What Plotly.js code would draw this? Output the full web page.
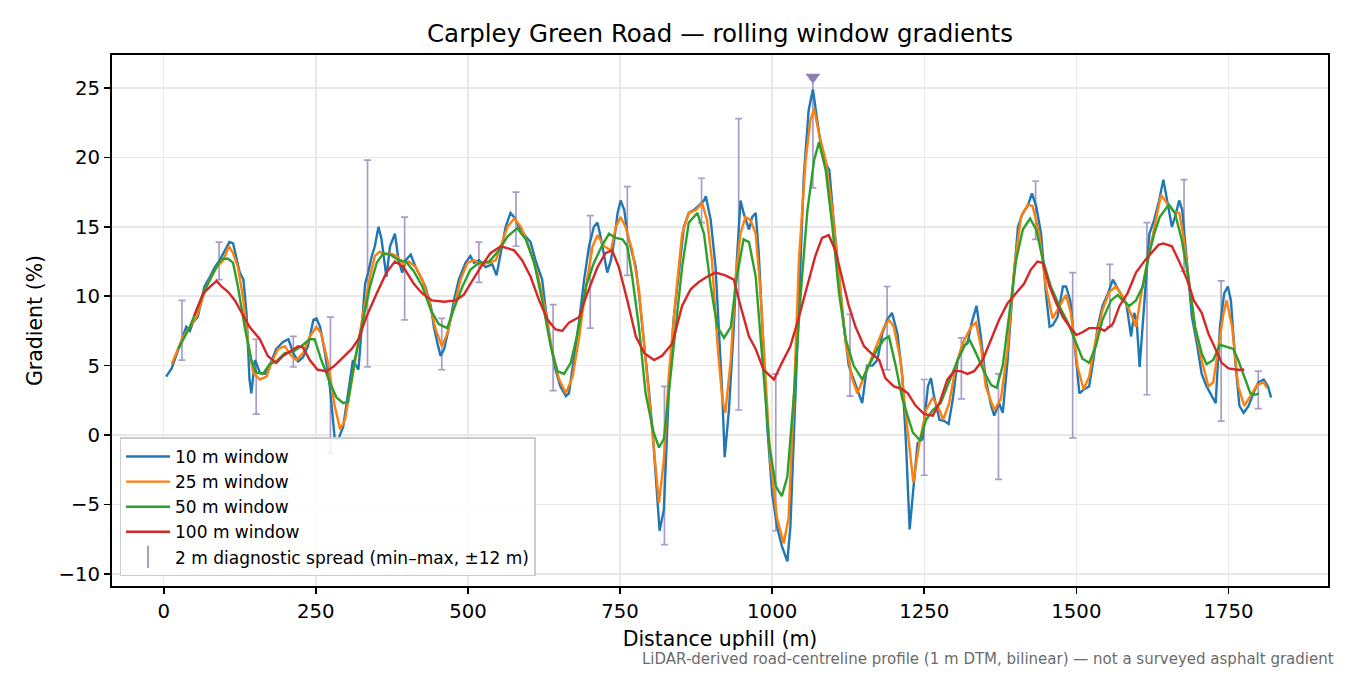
<!DOCTYPE html>
<html><head><meta charset="utf-8">
<script src="https://cdn.plot.ly/plotly-3.0.1.min.js"></script>
<style>html,body{margin:0;padding:0;background:#fff}#chart{width:1350px;height:675px}</style>
</head><body><div id="chart"></div>
<script>
// ---- 10 m window ----
const dist10=[4,13,26,37,43,48,56,67,76,84,92,100,108,114,120,125,131,136,141,144,150,158,166,174,185,196,205,213,221,229,237,246,251,257,265,273,281,287,295,303,311,320,325,331,336,342,347,353,358,361,366,372,380,386,392,398,406,414,422,430,439,444,450,455,461,469,477,485,496,504,510,518,529,540,547,554,562,570,576,584,595,603,611,622,628,636,644,652,661,666,674,683,691,699,707,713,718,724,729,735,740,746,751,757,762,770,776,781,790,798,804,809,815,822,830,838,847,855,863,871,879,888,891,899,907,912,918,922,929,937,942,948,953,962,967,973,978,984,992,1000,1008,1016,1025,1030,1036,1044,1052,1060,1067,1074,1082,1091,1094,1101,1110,1118,1126,1134,1143,1148,1156,1165,1173,1181,1189,1197,1206,1214,1220,1226,1234,1239,1247,1256,1261,1266,1275,1283,1290,1297,1305,1313,1321,1328,1336,1343,1351,1360,1365,1373,1379,1387,1395,1404,1412,1420,1427,1434,1442,1450,1456,1461,1469,1478,1483,1490,1497,1505,1513,1521,1528,1535,1543,1552,1560,1568,1575,1582,1590,1595,1599,1604,1609,1615,1620,1628,1636,1643,1649,1657,1662,1669,1674,1682,1690,1698,1706,1714,1723,1729,1736,1743,1749,1754,1761,1768,1775,1783,1791,1799,1808,1815,1820];
const grad10=[4.2,4.8,6.4,7.8,7.5,8.1,8.5,10.7,11.4,12.1,12.6,13.2,13.9,13.8,12.6,11.7,11.2,8.8,4.0,3.0,5.4,4.5,4.4,5.0,6.2,6.7,6.9,5.9,5.3,5.6,6.4,8.3,8.4,7.8,5.9,3.5,-0.2,-0.3,0.6,3.0,5.4,4.7,7.4,10.9,11.7,12.9,13.6,15.0,14.1,13.1,11.4,13.6,14.5,12.6,11.7,12.6,13.0,12.1,11.4,10.7,9.3,7.8,6.6,5.7,6.2,7.8,9.7,11.2,12.4,12.9,12.4,12.6,12.1,12.3,11.5,13.1,15.0,16.0,15.7,15.0,14.3,13.9,12.6,11.2,9.0,6.6,4.7,3.5,2.8,3.0,5.4,8.3,11.2,13.6,15.0,15.3,14.3,12.9,11.7,12.6,13.9,16.0,16.9,16.2,14.5,13.1,12.1,10.2,6.6,3.0,0.0,-3.5,-6.9,-5.4,3.0,8.3,11.7,15.0,16.0,16.2,16.5,16.9,17.2,15.5,12.1,7.8,3.0,-1.6,1.8,7.8,12.6,16.9,16.0,14.8,15.7,16.0,13.1,7.8,0.6,-4.2,-6.6,-8.0,-9.1,-6.6,0.6,10.2,18.6,23.4,24.9,22.7,20.3,19.3,19.1,15.5,11.4,7.8,5.0,4.0,2.8,2.3,5.0,5.0,5.4,7.3,8.3,8.8,7.3,4.2,-0.6,-6.8,-3.0,-0.6,-0.3,3.5,4.1,2.8,1.1,1.0,0.8,2.6,5.4,6.4,6.6,8.1,9.3,7.1,4.0,2.1,1.4,2.3,1.6,5.4,10.2,15.0,16.0,16.5,17.4,16.5,14.5,10.2,7.8,7.9,8.5,10.7,10.7,9.7,6.6,3.0,3.3,3.5,5.4,7.8,9.3,10.2,11.2,10.5,10.0,9.5,7.1,8.8,8.3,4.9,7.8,11.7,14.5,15.5,16.9,18.4,16.9,15.0,15.7,16.9,16.2,12.6,8.5,6.6,4.4,3.5,2.8,2.3,7.8,10.2,10.7,9.7,5.4,2.1,1.6,2.1,3.0,3.8,4.0,3.5,2.7];

// ---- 25 m window ----
const dist25=[13,32,54,70,87,98,107,114,122,131,139,147,158,169,177,188,199,210,218,229,240,251,259,270,281,290,298,306,317,328,339,347,355,364,372,383,394,403,414,425,436,447,457,466,477,488,499,510,521,535,546,554,565,576,587,600,614,628,639,650,661,672,683,694,705,713,724,735,743,751,759,770,781,792,797,803,814,822,830,841,852,863,874,885,893,901,910,918,923,932,940,948,956,964,973,981,989,997,1008,1019,1027,1036,1044,1055,1063,1069,1077,1088,1099,1110,1121,1132,1140,1151,1162,1173,1184,1192,1200,1211,1219,1232,1242,1253,1264,1275,1281,1291,1302,1313,1327,1335,1343,1351,1365,1376,1387,1398,1409,1420,1428,1439,1450,1461,1472,1483,1491,1502,1512,1521,1532,1543,1554,1565,1576,1587,1598,1606,1615,1626,1639,1649,1660,1669,1676,1684,1695,1706,1717,1725,1734,1742,1747,1756,1766,1776,1786,1797,1808,1813];
const grad25=[5.1,7.1,8.5,10.7,12.1,12.6,13.6,13.1,12.1,9.7,6.6,4.5,4.0,4.2,5.2,6.2,6.4,5.7,5.4,5.9,7.1,7.8,7.3,5.2,2.1,0.4,1.1,3.0,5.9,8.8,11.4,12.9,13.2,13.0,13.1,12.9,12.3,12.5,12.1,11.2,9.7,7.6,6.4,7.3,9.3,11.2,12.4,12.6,12.3,12.4,12.6,13.6,15.0,15.6,15.0,13.6,11.7,8.8,5.9,4.0,3.0,4.2,7.1,10.7,13.6,14.4,13.6,13.3,15.0,15.7,15.0,13.3,10.5,5.4,3.0,0.2,-4.9,-1.8,4.2,9.7,14.5,16.0,16.2,16.7,15.5,12.6,6.6,2.6,1.6,5.4,11.4,14.5,15.7,15.5,14.5,10.2,4.2,-1.8,-6.0,-7.8,-6.0,3.0,12.6,19.8,22.7,23.5,21.7,19.8,16.2,11.4,6.6,4.0,3.0,4.2,5.4,6.6,7.8,8.3,7.8,5.4,1.8,-3.4,-0.6,1.8,2.7,1.8,1.1,2.3,5.0,6.6,7.8,8.1,6.4,3.5,1.8,2.6,6.2,12.1,15.7,16.6,16.5,14.5,10.7,8.4,9.3,10.1,8.8,4.9,3.3,4.2,6.9,9.0,10.3,10.7,10.0,9.0,7.8,10.0,12.1,14.5,17.3,16.7,16.1,16.0,14.3,11.4,7.8,5.4,3.5,3.8,6.6,8.8,9.7,7.8,3.5,2.1,2.8,3.6,3.8,3.4];

// ---- 50 m window ----
const dist50=[24,43,65,84,95,106,114,122,133,144,152,163,174,185,199,213,229,240,248,259,273,284,295,303,314,328,339,350,361,372,386,398,411,425,439,452,466,477,491,504,518,535,551,565,581,595,609,622,636,647,658,669,680,694,707,721,732,743,754,762,770,781,792,805,814,822,830,841,852,863,877,888,899,910,921,932,942,953,962,973,984,995,1006,1016,1025,1036,1047,1058,1069,1077,1088,1099,1110,1121,1134,1148,1159,1173,1184,1192,1203,1214,1231,1243,1253,1264,1277,1291,1305,1316,1324,1335,1349,1360,1369,1379,1390,1401,1412,1424,1434,1445,1458,1472,1486,1500,1510,1521,1532,1543,1557,1568,1576,1587,1598,1609,1620,1628,1637,1652,1662,1673,1684,1695,1706,1714,1725,1736,1745,1758,1766,1777,1786,1794,1800];
const grad50=[6.2,7.8,10.2,11.9,12.7,12.7,12.4,10.7,7.8,5.4,4.5,4.4,5.1,5.3,5.9,6.0,6.5,6.9,6.9,5.4,3.8,2.7,2.3,2.4,5.4,8.3,10.7,12.4,13.1,13.0,12.6,12.5,11.8,10.7,9.0,8.0,7.7,9.1,10.7,11.9,12.4,12.5,13.3,14.3,14.9,14.1,12.4,9.7,6.4,4.6,4.4,5.2,7.3,10.7,12.4,13.7,14.5,14.2,14.1,13.6,11.4,7.8,3.0,0.2,-0.9,-0.3,3.0,7.8,12.1,15.3,16.0,14.5,10.7,7.8,7.0,7.8,11.4,14.1,13.9,11.4,5.4,-0.6,-3.7,-4.4,-3.0,3.0,10.2,16.2,19.8,21.1,19.1,15.0,10.2,6.9,5.0,4.0,5.0,6.2,6.9,7.1,5.0,2.6,0.2,-0.4,1.1,1.8,2.3,3.8,5.4,6.4,6.9,5.9,4.5,3.6,3.4,5.0,8.8,12.6,14.8,15.6,14.8,12.6,10.7,9.3,8.1,6.6,5.5,5.2,6.4,8.3,9.7,10.1,9.7,9.3,9.7,10.7,13.1,14.5,15.7,16.6,16.0,14.1,11.4,7.8,5.9,5.1,5.4,6.5,6.4,6.2,5.4,4.0,3.0,2.9,3.0];

// ---- 100 m window ----
const dist100=[50,65,79,87,95,106,117,128,141,158,171,185,196,207,221,229,240,253,268,281,295,309,320,333,350,366,380,394,411,425,441,461,480,493,507,521,537,554,576,589,603,617,631,644,655,666,683,696,713,726,737,748,762,776,790,806,819,836,852,866,879,893,907,923,937,948,962,973,986,1003,1016,1030,1044,1058,1071,1082,1093,1104,1115,1126,1137,1151,1165,1176,1186,1200,1214,1223,1236,1250,1264,1275,1288,1299,1310,1321,1332,1346,1360,1373,1387,1401,1414,1425,1436,1445,1456,1467,1478,1489,1500,1510,1521,1538,1546,1560,1571,1584,1598,1613,1627,1635,1643,1657,1668,1682,1693,1706,1717,1728,1739,1750,1764,1776];
const grad100=[8.6,10.2,10.8,11.1,10.7,10.3,9.7,8.8,7.8,6.9,5.7,5.2,5.7,6.0,6.4,6.3,5.4,4.7,4.6,5.0,5.6,6.2,6.9,8.5,10.2,11.7,12.5,12.1,10.9,10.2,9.7,9.6,9.7,10.1,11.1,12.1,13.1,13.6,13.3,12.6,11.4,9.7,8.3,7.6,7.5,8.1,8.5,10.2,12.1,13.1,13.3,12.1,9.7,7.1,5.9,5.4,5.7,6.6,9.3,10.5,11.0,11.4,11.7,11.5,11.2,9.3,7.1,6.2,4.7,4.0,5.2,6.4,8.5,10.7,12.9,14.2,14.4,13.3,11.4,9.3,7.8,6.4,5.8,5.4,4.1,3.5,3.3,3.0,2.1,1.5,1.4,2.3,4.0,4.6,4.6,4.4,4.6,5.4,6.9,8.3,9.5,10.2,10.9,11.9,12.5,12.4,10.7,9.5,8.5,7.8,7.2,7.4,7.7,7.7,7.5,8.0,9.3,10.2,11.7,12.6,13.3,13.7,13.8,13.6,12.6,11.2,9.7,8.8,7.3,6.2,5.2,4.8,4.7,4.7];

// ---- 2 m diagnostic spread (min / max within ±12 m) ----
const spreadX=[30,91,152,213,274,335,396,457,518,579,640,701,762,823,884,945,1006,1067,1128,1189,1250,1311,1372,1433,1494,1555,1616,1677,1738,1799];
const spreadMin=[5.4,11.2,1.5,4.9,-1.3,4.9,8.3,4.7,11.0,13.6,3.2,7.7,11.5,-7.9,15.3,1.8,-6.9,17.8,2.8,4.7,-2.9,2.6,-3.2,14.1,-0.2,7.8,2.9,11.8,1.0,1.9];
const spreadMax=[9.7,13.9,6.9,7.1,8.5,19.8,15.7,8.4,13.9,17.5,9.4,15.8,17.9,3.5,18.5,22.8,4.4,25.6,8.7,10.7,4.0,7.0,4.4,18.3,11.7,12.3,15.3,18.4,11.1,4.6];

// ---- steepest point marker ----
const peakX=[1067];
const peakY=[25.8];

const seriesNames=['10 m window','25 m window','50 m window','100 m window'];
const seriesColors=['#1f77b4','#ff7f0e','#2ca02c','#d62728'];
const spreadName='2 m diagnostic spread (min–max, ±12 m)';

const FONT='"DejaVu Sans", sans-serif';
const errColor='#a99cc6';

const spreadMid=spreadX.map((_,i)=>(spreadMin[i]+spreadMax[i])/2);
const spreadHalf=spreadX.map((_,i)=>(spreadMax[i]-spreadMin[i])/2);

const xs=[dist10,dist25,dist50,dist100];
const ys=[grad10,grad25,grad50,grad100];

const data=[];
data.push({x:spreadX,y:spreadMid,type:'scatter',mode:'markers',
  marker:{size:1,color:'rgba(0,0,0,0)'},
  error_y:{type:'data',array:spreadHalf,visible:true,color:errColor,thickness:1.7,width:3.5},
  showlegend:false,hoverinfo:'skip'});
for(let i=0;i<4;i++){
  data.push({x:xs[i],y:ys[i],type:'scatter',mode:'lines',name:seriesNames[i],
    line:{color:seriesColors[i],width:2.4}});
}
data.push({x:peakX,y:peakY,type:'scatter',mode:'markers',showlegend:false,
  marker:{symbol:'triangle-down',size:13,color:'#8c7fb0'}});
data.push({x:[null],y:[null],type:'scatter',mode:'markers',name:spreadName,
  marker:{symbol:'line-ns-open',size:16,color:errColor,line:{width:2,color:errColor}}});

const axisCommon={ticks:'outside',ticklen:6.5,tickwidth:1.6,tickcolor:'#000',
  showline:true,linecolor:'#000',linewidth:1.6,mirror:true,
  showgrid:true,gridcolor:'#e8e8e8',gridwidth:1.5,zeroline:false,
  tickfont:{size:19.7,family:FONT,color:'#000'}};

const layout={
  width:1350,height:675,
  margin:{l:112,r:22,t:55,b:89},
  paper_bgcolor:'#fff',plot_bgcolor:'#fff',
  font:{family:FONT,size:19.7,color:'#000'},
  title:{text:'Carpley Green Road — rolling window gradients',font:{size:24.5,family:FONT,color:'#000'},
    x:0.5,xref:'paper',xanchor:'center',y:1-33/675,yref:'container',yanchor:'middle'},
  xaxis:Object.assign({},axisCommon,{range:[-85,1913.6],tick0:0,dtick:250,
    title:{text:'Distance uphill (m)',font:{size:20.5,family:FONT},standoff:10}}),
  yaxis:Object.assign({},axisCommon,{range:[-10.88,27.38],tick0:0,dtick:5,
    title:{text:'Gradient (%)',font:{size:20.5,family:FONT},standoff:10}}),
  legend:{x:0.0062,y:0.018,xanchor:'left',yanchor:'bottom',itemwidth:44,
    bgcolor:'rgba(255,255,255,0.85)',bordercolor:'#cccccc',borderwidth:1.5,
    font:{size:17,family:FONT,color:'#000'}},
  annotations:[{text:'LiDAR-derived road-centreline profile (1 m DTM, bilinear) — not a surveyed asphalt gradient',
    xref:'paper',yref:'paper',x:1.0066,y:-0.1383,xanchor:'right',yanchor:'middle',showarrow:false,
    font:{size:15,family:FONT,color:'#6b6b6b'}}],
  showlegend:true
};

Plotly.newPlot('chart',data,layout,{displayModeBar:false,staticPlot:true});
</script>
</body></html>
